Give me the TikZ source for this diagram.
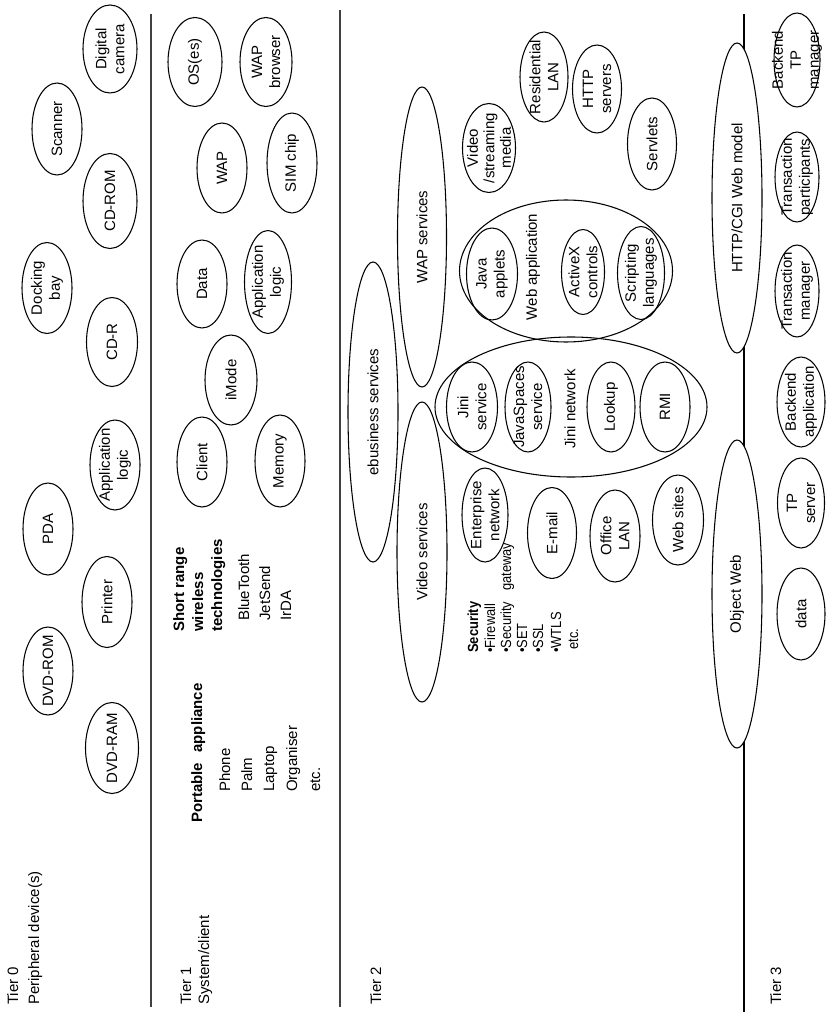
\documentclass[tikz,border=0pt]{standalone}
\usepackage{fontspec}
\setmainfont{Liberation Sans}
\newfontfamily\condfont[FakeStretch=0.88]{Liberation Sans}
\usetikzlibrary{shapes.geometric}
\newcommand\fsz{\fontsize{11.25}{13.5}\selectfont}
\newcommand\fsec{\condfont\fontsize{11}{12}\selectfont}
\tikzset{
  ovalshape/.style={draw, ellipse, inner sep=0pt, line width=0.8pt},
  lbl/.style={rotate=90, align=center, font=\fsz, inner sep=0pt},
  ln/.style={anchor=base west, rotate=90, inner sep=0pt, font=\fsz},
  lnb/.style={ln, font=\fsz\bfseries},
  sec/.style={anchor=base west, rotate=90, inner sep=0pt, font=\fsec},
  secb/.style={sec, font=\fsec\bfseries},
  sepline/.style={line width=1.2pt, black!75},
  tight/.style={font=\fontsize{11.25}{12.4}\selectfont},
}
\newcommand\ovalnode[7][]{%
  \node[ovalshape, #1, minimum width={#5*0.75pt}, minimum height={#6*0.75pt}] (#2) at (#3,#4) {};
  \node[lbl, #1] (#2-t) at (#2.center) {#7};}
\begin{document}
\begin{tikzpicture}[x=0.75pt, y=-0.75pt]
\useasboundingbox (0,0) rectangle (826,1012);
% tier separators
\coordinate (s0a) at (151,14); \coordinate (s0b) at (151,1007);
\coordinate (s1a) at (340,10); \coordinate (s1b) at (340,1007);
\coordinate (s2a) at (744,14); \coordinate (s2b) at (744,1012);
\draw[sepline] (s0a) -- (s0b);
\draw[sepline] (s1a) -- (s1b);
\draw[line width=0.9pt] (s2a) -- (s2b);
% tier labels
\node[ln] (t0a) at (18,1005) {Tier 0};
\node[ln] (t0b) at (39,1005) {Peripheral device(s)};
\node[ln] (t1a) at (191,1005) {Tier 1};
\node[ln] (t1b) at (209,1005) {System/client};
\node[ln] (t2) at (381,1005) {Tier 2};
\node[ln] (t3) at (781,1005) {Tier 3};
% tier 0
\ovalnode{dcam}{110}{49}{54}{88}{Digital\\camera}
\ovalnode{scan}{57}{129}{50}{92}{Scanner}
\ovalnode{cdrom}{110}{201}{54}{95}{CD-ROM}
\ovalnode{dock}{47}{288}{50}{91}{Docking\\bay}
\ovalnode{cdr}{112}{342}{51}{89}{CD-R}
\ovalnode{applog0}{115}{465}{50}{90}{Application\\logic}
\ovalnode{pda}{48}{529}{50}{92}{PDA}
\ovalnode{printer}{107}{602}{50}{91}{Printer}
\ovalnode{dvdrom}{48}{671}{50}{88}{DVD-ROM}
\ovalnode{dvdram}{112}{748}{53}{91}{DVD-RAM}
% tier 1
\ovalnode{os}{195}{62}{54}{89}{OS(es)}
\ovalnode{wapb}{266}{62}{52}{89}{WAP\\browser}
\ovalnode{wap}{222}{168}{50}{90}{WAP}
\ovalnode{sim}{292}{163}{50}{100}{SIM chip}
\ovalnode{data1}{202}{284}{50}{88}{Data}
\ovalnode{applog1}{268}{282}{47}{103}{Application\\logic}
\ovalnode{imode}{231}{380}{52}{90}{iMode}
\ovalnode{client}{202}{462}{50}{90}{Client}
\ovalnode{memory}{280}{461}{50}{92}{Memory}
\node[lnb] (sr1) at (184,632) {Short range};
\node[lnb] (sr2) at (203,632) {wireless};
\node[lnb] (sr3) at (222,632) {technologies};
\node[ln] (sr4) at (249,621) {BlueTooth};
\node[ln] (sr5) at (270,621) {JetSend};
\node[ln] (sr6) at (291,621) {IrDA};
\node[lnb] (pa) at (202,823) {Portable\hspace{0.4em} appliance};
\node[ln] (pa1) at (230,792) {Phone};
\node[ln] (pa2) at (252,792) {Palm};
\node[ln] (pa3) at (274,792) {Laptop};
\node[ln] (pa4) at (297,792) {Organiser};
\node[ln] (pa5) at (320,792) {etc.};
% tier 2
\ovalnode{wapsrv}{422}{237}{49}{300}{WAP services}
\ovalnode{ebus}{373}{412}{50}{300}{ebusiness services}
\ovalnode{vidsrv}{422}{552}{50}{300}{Video services}
\ovalnode[tight]{stream}{489}{148}{53}{89}{Video\\/streaming\\media}
\ovalnode{reslan}{544}{77}{48}{90}{Residential\\LAN}
\ovalnode{https}{597}{89}{49}{88}{HTTP\\servers}
\ovalnode{servlets}{652}{144}{49}{92}{Servlets}
\node[ovalshape, minimum width={213*0.75pt}, minimum height={142*0.75pt}] (webapp) at (566,271) {};
\node[lbl] (webapp-t) at (533,267) {Web application};
\ovalnode{java}{492}{274}{51}{92}{Java\\applets}
\ovalnode{activex}{583}{272}{43}{85}{ActiveX\\controls}
\ovalnode{script}{641}{273}{47}{93}{Scripting\\languages}
\node[ovalshape, minimum width={272*0.75pt}, minimum height={140*0.75pt}] (jini) at (571,407) {};
\node[lbl] (jini-t) at (570,409) {Jini network};
\ovalnode{jinis}{472}{407}{51}{90}{Jini\\service}
\ovalnode{jspace}{528}{407}{46}{90}{JavaSpaces\\service}
\ovalnode{lookup}{611}{407}{48}{90}{Lookup}
\ovalnode{rmi}{665}{407}{50}{90}{RMI}
\ovalnode{entnet}{485}{515}{46}{94}{Enterprise\\network}
\ovalnode{email}{552}{533}{49}{91}{E-mail}
\ovalnode{offlan}{615}{536}{50}{92}{Office\\LAN}
\ovalnode{websites}{678}{520}{51}{90}{Web sites}
\node[secb] (sec0) at (478,653) {Security};
\node[sec] (sec1) at (495,653) {•Firewall};
\node[sec] (sec2) at (511,653) {•Security\hspace{0.5em} gateway};
\node[sec] (sec3) at (527,653) {•SET};
\node[sec] (sec4) at (543,653) {•SSL};
\node[sec] (sec5) at (561,653) {•WTLS};
\node[sec] (sec6) at (578,650) {etc.};
% tier 3
\ovalnode[fill=white]{http}{737}{198}{50}{310}{HTTP/CGI Web model}
\ovalnode[fill=white]{objweb}{737}{594}{50}{308}{Object Web}
\ovalnode{btpm}{797}{60}{46}{94}{Backend\\TP\\manager}
\ovalnode{tpart}{797}{177}{44}{90}{Transaction\\participants}
\ovalnode{tman}{797}{291}{44}{92}{Transaction\\manager}
\ovalnode{bapp}{801}{402}{48}{90}{Backend\\application}
\ovalnode{tpserv}{801}{503}{47}{90}{TP\\server}
\ovalnode{data3}{801}{614}{48}{92}{data}
\end{tikzpicture}
\end{document}
